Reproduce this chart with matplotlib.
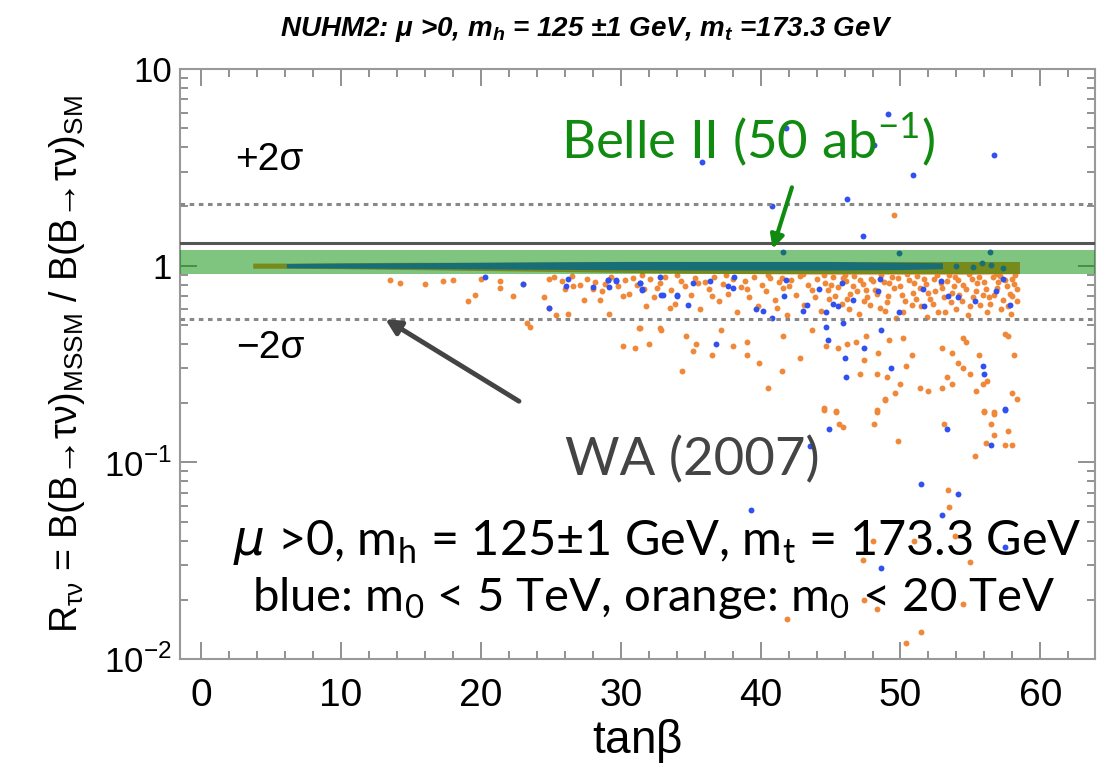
import matplotlib
matplotlib.use("Agg")
import matplotlib.pyplot as plt
from matplotlib.ticker import FixedLocator, FixedFormatter, MultipleLocator, LogLocator, NullFormatter

# --- data ------------------------------------------------------------------
# dense strip of points sitting at R ~ 1 (drawn as envelopes)
orange_strip_tb = [3.7, 6.1, 10, 15, 20, 25, 30, 35, 40, 45, 50, 55, 58.5]
orange_strip_hi = [1.03, 1.03, 1.035, 1.04, 1.04, 1.045, 1.05, 1.05, 1.05, 1.05, 1.05, 1.05, 1.05]
orange_strip_lo = [0.97, 0.97, 0.965, 0.955, 0.945, 0.935, 0.925, 0.915, 0.91, 0.905, 0.905, 0.905, 0.91]
blue_strip_tb = [6.1, 10, 15, 20, 25, 30, 35, 40, 45, 50, 53]
blue_strip_hi = [1.025, 1.03, 1.035, 1.04, 1.045, 1.05, 1.05, 1.05, 1.05, 1.04, 1.035]
blue_strip_lo = [0.975, 0.972, 0.968, 0.963, 0.958, 0.953, 0.95, 0.95, 0.95, 0.955, 0.965]

# orange: m0 < 20 TeV
orange_tb = [13.5, 14.2, 16.0, 17.3, 18.0, 19.1, 19.6, 21.4, 22.3, 23.0, 24.5, 24.9, 25.4, 26.2,
             27.4, 28.5, 29.2, 23.3, 23.5, 31.4, 32.8, 31.8, 33.5, 30.2, 28.0, 26.6, 24.9, 21.4, 20.0,
             30.2, 31.0, 32.0, 31.3, 32.9, 34.7, 35.4, 35.2, 36.5, 37.2, 38.0, 39.0, 39.0, 39.9,
             34.4, 41.5, 40.5, 41.6, 42.8, 43.7, 44.7, 45.5, 46.2, 46.8, 47.5, 47.4, 47.1, 48.3,
             49.0, 48.4, 49.2, 50.2, 50.8, 50.4, 50.0, 49.6, 48.9, 48.3, 45.4, 44.5, 51.4, 52.0,
             53.0, 53.7, 54.1, 54.5, 53.3, 53.7, 53.0, 55.0, 55.6, 55.9, 56.2, 55.4, 57.5, 57.7,
             58.1, 58.0, 58.3, 56.0, 56.7, 54.5, 54.7,
             44.5, 45.4, 48.3, 48.1, 45.6, 45.9, 48.9, 53.1, 49.8, 56.0, 56.7, 56.5, 56.7, 57.7,
             57.5, 58.0, 56.1, 55.3, 53.4, 53.5, 53.9, 51.0, 47.3, 48.0, 55.0, 47.4, 48.3, 54.5,
             51.5, 50.4, 41.9, 49.5,
             25.2, 25.8, 26.5, 27.1, 27.6, 28.2, 28.7, 29.3, 29.8, 30.3, 30.6,
             30.9, 31.2, 31.7, 32.1, 32.4, 32.8, 33.2, 33.6, 33.9, 34.3, 34.6, 35.0, 35.3, 35.7,
             36.0, 36.3, 36.7, 37.0, 37.3, 37.7, 38.0, 38.3, 38.6, 38.9, 39.2, 39.5, 39.8, 40.1, 40.4,
             40.7, 41.0, 41.3, 41.6, 41.9, 42.2, 42.5, 42.8, 43.1, 43.4, 43.7, 44.0, 44.3, 44.6, 44.9, 45.2,
             45.5, 45.8, 46.1, 46.4, 46.7, 47.0, 47.3, 47.6, 47.9, 48.2, 48.5, 48.8, 49.1, 49.4, 49.7,
             50.0, 50.3, 50.6, 50.9, 51.2, 51.5, 51.8, 52.1, 52.4, 52.7, 53.0, 53.3, 53.6, 53.9, 54.2,
             54.5, 54.8, 55.1, 55.4, 55.7, 56.0, 56.3, 56.6, 56.9, 57.2, 57.5, 57.8, 58.1, 58.3, 57.9,
             26.0, 28.9, 31.5, 32.6, 34.0, 35.5, 36.5, 37.5, 39.0, 40.5, 41.2, 42.0, 43.0, 43.9, 45.0,
             46.0, 46.9, 47.8, 48.6, 49.5, 50.5, 51.0, 51.9, 52.5, 53.5, 54.0, 54.9, 55.5, 56.2, 56.8,
             57.6, 58.2, 58.0, 57.0, 55.9, 53.1, 50.2, 48.0, 44.5, 41.5,
             45.3, 45.9, 46.3, 46.6, 47.1, 47.4, 48.3, 48.9, 49.2, 49.8, 50.1, 50.8, 51.4, 51.7, 52.0,
             52.3, 52.9, 53.2, 53.7, 54.1, 54.4, 54.7, 55.2, 55.6, 56.1, 56.4, 56.7, 57.1, 57.3, 57.7,
             58.0, 58.3, 55.0, 53.8, 52.6, 51.1, 49.0, 47.5, 46.2, 44.8]
orange_r = [0.85, 0.82, 0.81, 0.84, 0.85, 0.66, 0.71, 0.77, 0.70, 0.81, 0.69, 0.61, 0.56, 0.57,
            0.67, 0.67, 0.57, 0.51, 0.49, 0.48, 0.48, 0.62, 0.61, 0.70, 0.76, 0.79, 0.86, 0.84, 0.86,
            0.39, 0.38, 0.40, 0.48, 0.47, 0.44, 0.40, 0.37, 0.35, 0.47, 0.39, 0.41, 0.35, 0.32,
            0.29, 0.29, 0.24, 0.44, 0.34, 0.47, 0.39, 0.38, 0.40, 0.41, 0.44, 0.33, 0.28, 0.28,
            0.27, 0.36, 0.42, 0.43, 0.35, 0.31, 0.25, 0.225, 0.21, 0.18, 0.18, 0.185, 0.24, 0.23,
            0.38, 0.36, 0.32, 0.30, 0.27, 0.25, 0.24, 0.28, 0.35, 0.25, 0.26, 0.23, 0.45, 0.44,
            0.35, 0.225, 0.21, 0.18, 0.18, 0.43, 0.41,
            0.189, 0.182, 0.185, 0.156, 0.156, 0.151, 0.208, 0.157, 0.128, 0.182, 0.177, 0.157, 0.137, 0.144,
            0.122, 0.123, 0.125, 0.108, 0.072, 0.059, 0.042, 0.040, 0.032, 0.040, 0.031, 0.020, 0.018, 0.019,
            0.0137, 0.0121, 0.016, 1.82,
            0.88, 0.84, 0.89, 0.80, 0.86, 0.83, 0.74, 0.88, 0.79, 0.85, 0.72,
            0.87, 0.80, 0.76, 0.86, 0.69, 0.82, 0.88, 0.75, 0.64, 0.84, 0.79, 0.71, 0.87, 0.60,
            0.83, 0.76, 0.88, 0.66, 0.81, 0.72, 0.86, 0.58, 0.78, 0.84, 0.69, 0.88, 0.62, 0.80, 0.74,
            0.87, 0.67, 0.83, 0.77, 0.56, 0.85, 0.71, 0.89, 0.63, 0.80, 0.75, 0.86, 0.59, 0.82, 0.68, 0.88,
            0.78, 0.64, 0.84, 0.72, 0.89, 0.57, 0.81, 0.69, 0.86, 0.75, 0.61, 0.83, 0.70, 0.88, 0.54,
            0.79, 0.66, 0.85, 0.73, 0.89, 0.62, 0.81, 0.68, 0.86, 0.58, 0.77, 0.84, 0.65, 0.88, 0.71,
            0.80, 0.56, 0.86, 0.74, 0.63, 0.83, 0.69, 0.88, 0.77, 0.60, 0.85, 0.72, 0.81, 0.66, 0.57,
            0.76, 0.81, 0.90, 0.77, 0.90, 0.82, 0.70, 0.90, 0.76, 0.90, 0.61, 0.79, 0.91, 0.69, 0.80,
            0.90, 0.74, 0.63, 0.90, 0.77, 0.91, 0.82, 0.55, 0.74, 0.90, 0.60, 0.91, 0.82, 0.58, 0.91,
            0.79, 0.90, 0.70, 0.83, 0.71, 0.69, 0.58, 0.84, 0.90, 0.87,
            0.70, 0.87, 0.60, 0.79, 0.85, 0.66, 0.72, 0.59, 0.82, 0.87, 0.71, 0.63, 0.77, 0.86, 0.73,
            0.64, 0.82, 0.58, 0.73, 0.85, 0.66, 0.76, 0.69, 0.88, 0.76, 0.64, 0.71, 0.89, 0.67, 0.62,
            0.86, 0.76, 0.62, 0.79, 0.90, 0.68, 0.65, 0.75, 0.68, 0.75]

# blue: m0 < 5 TeV
blue_tb = [20.3, 23.0, 24.9, 26.1, 26.2, 28.0, 29.1, 29.2, 29.7, 31.4, 31.5, 33.0, 34.0, 32.8,
           29.1, 29.7, 31.4, 31.5, 32.9, 34.0, 34.8, 35.2, 36.4, 37.7, 38.0, 38.1, 39.7, 40.2,
           40.8, 41.7, 41.8, 43.0, 43.3, 44.2, 44.7, 44.7, 44.8, 45.2, 45.5, 45.8, 45.9, 46.0,
           46.1, 46.6, 47.4, 48.4, 48.5, 48.6, 49.3, 49.9, 51.6, 51.7, 52.9, 53.4, 54.1, 55.3,
           55.9, 56.0, 56.8, 57.3, 57.8, 57.5, 36.8,
           41.6, 47.3, 49.9, 56.4,
           44.9, 43.5, 53.3, 57.5, 56.5, 51.5, 54.1, 53.0, 39.3, 48.6, 57.5,
           35.8, 49.1, 48.1, 50.9, 40.8, 46.2, 41.8, 56.7,
           54.0, 55.2, 56.5, 57.3, 55.8]
blue_r = [0.88, 0.81, 0.61, 0.79, 0.86, 0.78, 0.85, 0.78, 0.84, 0.82, 0.76, 0.71, 0.70, 0.88,
          0.85, 0.85, 0.82, 0.75, 0.71, 0.71, 0.63, 0.82, 0.84, 0.79, 0.77, 0.88, 0.60, 0.59,
          0.54, 0.70, 0.85, 0.59, 0.63, 0.76, 0.58, 0.49, 0.42, 0.64, 0.62, 0.82, 0.51, 0.34,
          0.27, 0.67, 0.38, 0.74, 0.86, 0.47, 0.30, 0.58, 0.76, 0.62, 0.84, 0.70, 0.69, 0.66,
          0.31, 0.28, 0.74, 0.86, 0.63, 0.185, 0.40,
          1.18, 1.41, 1.16, 1.18,
          0.148, 0.121, 0.148, 0.187, 0.122, 0.078, 0.069, 0.054, 0.057, 0.029, 0.037,
          3.35, 5.93, 4.12, 2.90, 2.00, 2.17, 5.0, 3.67,
          1.00, 0.98, 1.01, 0.97, 1.03]

band_lo, band_hi = 0.91, 1.20          # Belle II (50 ab^-1) projection
wa_central, wa_up, wa_down = 1.31, 2.07, 0.537

xtick_vals = [0, 10, 20, 30, 40, 50, 60]
xtick_labels = ["0", "10", "20", "30", "40", "50", "60"]
ytick_vals = [0.01, 0.1, 1, 10]
ytick_labels = [r"10$^{\mathregular{-2}}$", r"10$^{\mathregular{-1}}$", "1", "10"]

# --- figure ------------------------------------------------------------------
helv = ["Liberation Sans", "DejaVu Sans"]
narrow = ["Liberation Sans Narrow", "Liberation Sans", "DejaVu Sans"]
gill = ["Lato", "DejaVu Sans"]

fig = plt.figure(figsize=(11.13, 7.76), dpi=100)
ax = fig.add_axes([0.1617, 0.1508, 0.8221, 0.7603])
ax.set_yscale("log")
ax.set_xlim(-1.5, 63.9)
ax.set_ylim(0.01, 10)

orange = "#f0883a"
blue = "#3050f0"
ax.fill_between(orange_strip_tb, orange_strip_lo, orange_strip_hi, color=orange, lw=0, zorder=2)
ax.scatter(orange_tb, orange_r, s=18, marker="o", color=orange, lw=0, zorder=2)
ax.fill_between(blue_strip_tb, blue_strip_lo, blue_strip_hi, color=blue, lw=0, zorder=2.5)
ax.scatter(blue_tb, blue_r, s=18, marker="o", color=blue, lw=0, zorder=2.5)

ax.axhspan(band_lo, band_hi, color=(0, 0.55, 0), alpha=0.5, lw=0, zorder=3)
ax.axhline(wa_central, color="#555555", lw=2.2, zorder=4)
ax.axhline(wa_up, color="#888888", lw=2.2, ls=(0, (1.5, 1.5)), zorder=4)
ax.axhline(wa_down, color="#888888", lw=2.2, ls=(0, (1.5, 1.5)), zorder=4)

# ticks
ax.xaxis.set_major_locator(FixedLocator(xtick_vals))
ax.xaxis.set_major_formatter(FixedFormatter(xtick_labels))
ax.xaxis.set_minor_locator(MultipleLocator(2))
ax.yaxis.set_major_locator(FixedLocator(ytick_vals))
ax.yaxis.set_major_formatter(FixedFormatter(ytick_labels))
ax.yaxis.set_minor_locator(LogLocator(base=10, subs=range(2, 10)))
ax.yaxis.set_minor_formatter(NullFormatter())
ax.tick_params(which="both", direction="in", top=True, right=True, color="#888888", width=1.3)
ax.tick_params(which="major", length=12)
ax.tick_params(which="minor", length=6)
ax.tick_params(axis="x", pad=14)
ax.tick_params(axis="y", pad=6)
for lab in ax.get_xticklabels():
    lab.set_family(narrow)
    lab.set_fontsize(28)
for lab in ax.get_yticklabels():
    lab.set_family(helv)
    lab.set_fontsize(25)
for sp in ax.spines.values():
    sp.set_color("#999999")
    sp.set_linewidth(1.5)

ax.set_xlabel(r"tan$\mathregular{\beta}$", family=narrow, fontsize=33, labelpad=2)
ax.set_ylabel(r"R$_{\mathregular{\tau\nu}}$ = B(B→τν)$_{\mathregular{MSSM}}$ / B(B→τν)$_{\mathregular{SM}}$",
              family=helv, fontsize=27, labelpad=12)

fig.text(0.527, 0.962, r"NUHM2: μ >0, m$_{\mathregular{h}}$ = 125 ±1 GeV, m$_{\mathregular{t}}$ =173.3 GeV",
         family=helv, style="italic", weight="bold", fontsize=20, ha="center", va="center")

# annotations
ax.text(0.098, 0.846, "+2σ", transform=ax.transAxes, family=helv, fontsize=28, ha="center", va="center", zorder=5)
ax.text(0.099, 0.527, "−2σ", transform=ax.transAxes, family=helv, fontsize=28, ha="center", va="center", zorder=5)
ax.text(0.621, 0.880, r"Belle II (50 ab$^{\mathregular{-1}}$)", transform=ax.transAxes, family=gill,
        fontsize=38, color="#108a10", ha="center", va="center", zorder=5)
ax.annotate("", xy=(40.8, 1.18), xytext=(42.3, 2.58),
            arrowprops=dict(arrowstyle="-|>,head_length=0.8,head_width=0.4", color="#108a10", lw=3), zorder=5)
ax.text(0.560, 0.337, "WA (2007)", transform=ax.transAxes, family=gill, fontsize=38,
        color="#444444", ha="center", va="center", zorder=5)
ax.annotate("", xy=(13.0, 0.544), xytext=(22.9, 0.201),
            arrowprops=dict(arrowstyle="-|>,head_length=0.9,head_width=0.45", color="#444444", lw=3.5), zorder=5)
ax.text(0.522, 0.197, r"$\mu$ >0, m$_{\mathregular{h}}$ = 125±1 GeV, m$_{\mathregular{t}}$ = 173.3 GeV",
        transform=ax.transAxes, family=gill, fontsize=35, ha="center", va="center", zorder=5)
ax.text(0.518, 0.103, r"blue: m$_{\mathregular{0}}$ < 5 TeV, orange: m$_{\mathregular{0}}$ < 20 TeV",
        transform=ax.transAxes, family=gill, fontsize=34, ha="center", va="center", zorder=5)

fig.savefig("out.png", dpi=100)
